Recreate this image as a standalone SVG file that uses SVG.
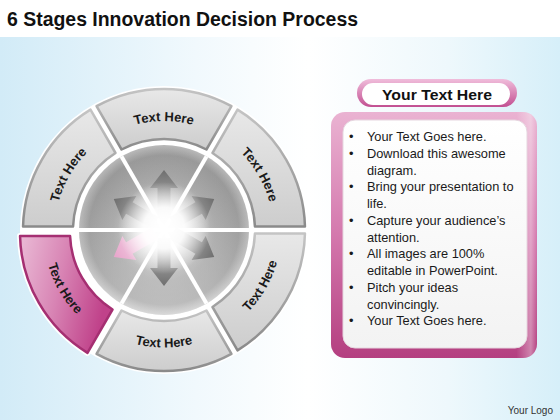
<svg xmlns="http://www.w3.org/2000/svg" width="560" height="420" viewBox="0 0 560 420">
<defs>
<style>
.seg{fill:url(#gSeg);stroke:url(#gSegStroke);stroke-width:2.5;stroke-linejoin:round}
.lbl{font-family:"Liberation Sans",Arial,sans-serif;font-weight:bold;font-size:13px;fill:#1a1a1a}
.body{font-family:"Liberation Sans",Arial,sans-serif;font-size:12.8px;fill:#1a1a1a}
.sep{stroke:#ffffff;stroke-width:4}
</style>
<linearGradient id="gBg" x1="0" y1="0" x2="1" y2="0">
<stop offset="0" stop-color="#d2ebf7"/>
<stop offset="0.35" stop-color="#f1f9fd"/>
<stop offset="0.55" stop-color="#ffffff"/>
<stop offset="0.8" stop-color="#eef8fc"/>
<stop offset="1" stop-color="#d6eff9"/>
</linearGradient>
<linearGradient id="gSeg" x1="0" y1="0" x2="0" y2="1">
<stop offset="0" stop-color="#e8e8e8"/>
<stop offset="1" stop-color="#cdcdcd"/>
</linearGradient>
<linearGradient id="gSegStroke" x1="0" y1="0" x2="0" y2="1">
<stop offset="0" stop-color="#c4c4c4"/>
<stop offset="1" stop-color="#8a8a8a"/>
</linearGradient>
<linearGradient id="gPink" x1="0" y1="0" x2="1" y2="0.3">
<stop offset="0" stop-color="#eabbd6"/>
<stop offset="0.5" stop-color="#d884b4"/>
<stop offset="1" stop-color="#c0428a"/>
</linearGradient>
<radialGradient id="gDisk" cx="0.5" cy="0.5" r="0.5">
<stop offset="0" stop-color="#ffffff"/>
<stop offset="0.3" stop-color="#e0e0e0"/>
<stop offset="0.6" stop-color="#b8b8b8"/>
<stop offset="0.88" stop-color="#a8a8a8"/>
<stop offset="1" stop-color="#cacaca"/>
</radialGradient>
<linearGradient id="gDiskShade" x1="0" y1="0" x2="0" y2="1">
<stop offset="0" stop-color="#000000" stop-opacity="0.08"/>
<stop offset="1" stop-color="#ffffff" stop-opacity="0.3"/>
</linearGradient>
<radialGradient id="gGlow" cx="0.5" cy="0.5" r="0.5">
<stop offset="0" stop-color="#ffffff" stop-opacity="1"/>
<stop offset="0.45" stop-color="#ffffff" stop-opacity="0.92"/>
<stop offset="1" stop-color="#ffffff" stop-opacity="0"/>
</radialGradient>
<linearGradient id="gArrow" gradientUnits="userSpaceOnUse" x1="0" y1="0" x2="58" y2="0">
<stop offset="0" stop-color="#ffffff"/>
<stop offset="0.45" stop-color="#a8a8a8"/>
<stop offset="1" stop-color="#6e6e6e"/>
</linearGradient>
<linearGradient id="gArrowPink" gradientUnits="userSpaceOnUse" x1="0" y1="0" x2="58" y2="0">
<stop offset="0" stop-color="#ffffff"/>
<stop offset="0.5" stop-color="#f2cde2"/>
<stop offset="1" stop-color="#e7a4ca"/>
</linearGradient>
<polygon id="arrow" points="10,-6.5 40,-6.5 40,-14 58,0 40,14 40,6.5 10,6.5"/>
<linearGradient id="gFrame" x1="0" y1="0" x2="0" y2="1">
<stop offset="0" stop-color="#eab3d2"/>
<stop offset="0.5" stop-color="#d478ad"/>
<stop offset="1" stop-color="#b43f80"/>
</linearGradient>
<linearGradient id="gFrameSide" x1="0" y1="0" x2="1" y2="0">
<stop offset="0" stop-color="#ffffff" stop-opacity="0"/>
<stop offset="0.9" stop-color="#ffffff" stop-opacity="0"/>
<stop offset="0.97" stop-color="#ffffff" stop-opacity="0.35"/>
<stop offset="1" stop-color="#ffffff" stop-opacity="0"/>
</linearGradient>
<linearGradient id="gPill" x1="0" y1="0" x2="0" y2="1">
<stop offset="0" stop-color="#f0bddb"/>
<stop offset="1" stop-color="#c24f91"/>
</linearGradient>
<linearGradient id="gWhite" x1="0" y1="0" x2="0" y2="1">
<stop offset="0" stop-color="#ffffff"/>
<stop offset="1" stop-color="#f3f3f3"/>
</linearGradient>
<path id="tpTop" d="M109.5,135.6 A109,109 0 0 1 218.5,135.6"/>
<path id="tpUL" d="M55,230 A109,109 0 0 1 109.5,135.6"/>
<path id="tpUR" d="M218.5,135.6 A109,109 0 0 1 273,230"/>
<path id="tpBot" d="M105.25,331.76 A117.5,117.5 0 0 0 222.75,331.76"/>
<path id="tpLL" d="M46.5,230 A117.5,117.5 0 0 0 105.25,331.76"/>
<path id="tpLR" d="M222.75,331.76 A117.5,117.5 0 0 0 281.5,230"/>
</defs>

<rect x="0" y="0" width="560" height="420" fill="#ffffff"/>
<rect x="0" y="37" width="560" height="383" fill="url(#gBg)"/>

<text x="7" y="26" font-family="'Liberation Sans',Arial,sans-serif" font-weight="bold" font-size="20" fill="#111111" textLength="351" lengthAdjust="spacingAndGlyphs">6 Stages Innovation Decision Process</text>

<g id="wheel-base">
<circle cx="164" cy="230" r="144" fill="#ffffff"/>
<circle cx="164" cy="230" r="85" fill="url(#gDisk)"/>
<circle cx="164" cy="230" r="85" fill="url(#gDiskShade)"/>
<line class="sep" x1="79" y1="230" x2="249" y2="230"/>
<line class="sep" x1="121.5" y1="156.4" x2="206.5" y2="303.6"/>
<line class="sep" x1="206.5" y1="156.4" x2="121.5" y2="303.6"/>
</g>

<g id="arrows" transform="translate(164,228)">
<use href="#arrow" fill="url(#gArrow)" transform="rotate(-90)"/>
<use href="#arrow" fill="url(#gArrow)" transform="rotate(-30)"/>
<use href="#arrow" fill="url(#gArrow)" transform="rotate(30)"/>
<use href="#arrow" fill="url(#gArrow)" transform="rotate(90)"/>
<use href="#arrow" fill="url(#gArrow)" transform="rotate(210)"/>
<use href="#arrow" fill="url(#gArrowPink)" transform="rotate(150)"/>
<circle cx="0" cy="0" r="46" fill="url(#gGlow)"/>
</g>

<g id="seg-top">
<path class="seg" transform="translate(164,230)" d="M-67.45,-123.82 A141,141 0 0 1 67.45,-123.82 L42.43,-80.5 A91,91 0 0 0 -42.43,-80.5 Z"/>
<text class="lbl"><textPath href="#tpTop" startOffset="50%" text-anchor="middle">Text Here</textPath></text>
</g>

<g id="seg-upper-right">
<path class="seg" transform="translate(164,230)" d="M73.52,-120.32 A141,141 0 0 1 140.96,-3.5 L90.93,-3.5 A91,91 0 0 0 48.5,-77 Z"/>
<text class="lbl"><textPath href="#tpUR" startOffset="50%" text-anchor="middle">Text Here</textPath></text>
</g>

<g id="seg-lower-right">
<path class="seg" transform="translate(164,230)" d="M140.96,3.5 A141,141 0 0 1 73.52,120.32 L48.5,77 A91,91 0 0 0 90.93,3.5 Z"/>
<text class="lbl"><textPath href="#tpLR" startOffset="50%" text-anchor="middle">Text Here</textPath></text>
</g>

<g id="seg-bottom">
<path class="seg" transform="translate(164,230)" d="M67.45,123.82 A141,141 0 0 1 -67.45,123.82 L-42.43,80.5 A91,91 0 0 0 42.43,80.5 Z"/>
<text class="lbl"><textPath href="#tpBot" startOffset="50%" text-anchor="middle">Text Here</textPath></text>
</g>

<g id="seg-lower-left" transform="translate(-3,2.5)">
<path transform="translate(164,230)" d="M-73.52,120.32 A141,141 0 0 1 -140.96,3.5 L-90.93,3.5 A91,91 0 0 0 -48.5,77 Z" fill="#ffffff" stroke="#ffffff" stroke-width="6" stroke-linejoin="round"/>
<path transform="translate(164,230)" d="M-73.52,120.32 A141,141 0 0 1 -140.96,3.5 L-90.93,3.5 A91,91 0 0 0 -48.5,77 Z" fill="url(#gPink)" stroke="#a52f72" stroke-width="2.5" stroke-linejoin="round"/>
<text class="lbl"><textPath href="#tpLL" startOffset="50%" text-anchor="middle">Text Here</textPath></text>
</g>

<g id="seg-upper-left">
<path class="seg" transform="translate(164,230)" d="M-140.96,-3.5 A141,141 0 0 1 -73.52,-120.32 L-48.5,-77 A91,91 0 0 0 -90.93,-3.5 Z"/>
<text class="lbl"><textPath href="#tpUL" startOffset="50%" text-anchor="middle">Text Here</textPath></text>
</g>

<g id="panel-title">
<rect x="357" y="79" width="160" height="28" rx="14" fill="url(#gPill)"/>
<rect x="362" y="83" width="148" height="22" rx="11" fill="#ffffff"/>
<text x="437" y="99.5" text-anchor="middle" font-family="'Liberation Sans',Arial,sans-serif" font-weight="bold" font-size="15" fill="#111111" textLength="110" lengthAdjust="spacingAndGlyphs">Your Text Here</text>
</g>

<g id="panel-body">
<rect x="331" y="112" width="206" height="246" rx="14" fill="url(#gFrame)"/>
<rect x="331" y="112" width="206" height="246" rx="14" fill="url(#gFrameSide)"/>
<rect x="343" y="120" width="184" height="228" rx="12" fill="url(#gWhite)" stroke="#e6d6df" stroke-width="1"/>
<g class="body">
<text x="349" y="141">•</text><text x="367" y="141">Your Text Goes here.</text>
<text x="349" y="157.75">•</text><text x="367" y="157.75">Download this awesome</text>
<text x="367" y="174.5">diagram.</text>
<text x="349" y="191.25">•</text><text x="367" y="191.25">Bring your presentation to</text>
<text x="367" y="208">life.</text>
<text x="349" y="224.75">•</text><text x="367" y="224.75">Capture your audience’s</text>
<text x="367" y="241.5">attention.</text>
<text x="349" y="258.25">•</text><text x="367" y="258.25">All images are 100%</text>
<text x="367" y="275">editable in PowerPoint.</text>
<text x="349" y="291.75">•</text><text x="367" y="291.75">Pitch your ideas</text>
<text x="367" y="308.5">convincingly.</text>
<text x="349" y="325.25">•</text><text x="367" y="325.25">Your Text Goes here.</text>
</g>
</g>

<text x="553" y="414" text-anchor="end" font-family="'Liberation Sans',Arial,sans-serif" font-size="10" fill="#333333">Your Logo</text>
</svg>
